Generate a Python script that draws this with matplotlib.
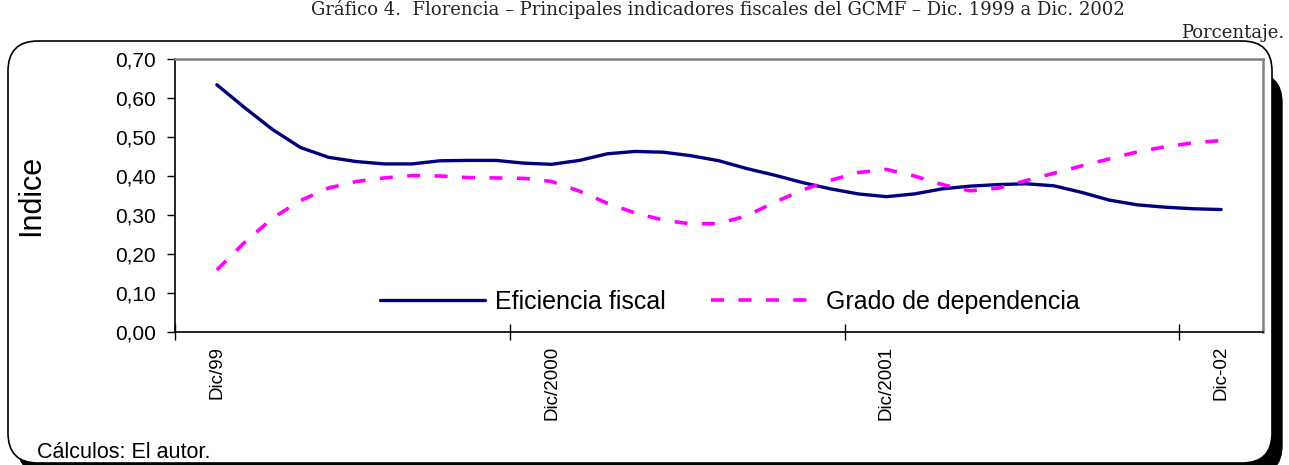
import numpy as np
import matplotlib as mpl
mpl.use('Agg')
import matplotlib.pyplot as plt
from matplotlib.patches import FancyBboxPatch
from matplotlib.ticker import FixedLocator, NullFormatter

plt.rcParams['font.family'] = ['Liberation Sans', 'DejaVu Sans']

# monthly readings, Dic/99 .. Dic/02 (index = month since Dic/99)
eficiencia = [0.634, 0.575, 0.519, 0.473, 0.448, 0.437, 0.431, 0.431, 0.439, 0.440,
              0.440, 0.433, 0.430, 0.440, 0.457, 0.463, 0.461, 0.452, 0.439, 0.419,
              0.402, 0.383, 0.367, 0.354, 0.347, 0.354, 0.367, 0.374, 0.378, 0.380,
              0.375, 0.358, 0.338, 0.326, 0.320, 0.316, 0.314]
dependencia = [0.159, 0.230, 0.292, 0.337, 0.369, 0.386, 0.395, 0.401, 0.400, 0.396,
               0.395, 0.394, 0.386, 0.361, 0.330, 0.305, 0.287, 0.277, 0.278, 0.298,
               0.333, 0.364, 0.389, 0.409, 0.417, 0.400, 0.378, 0.362, 0.369, 0.388,
               0.407, 0.426, 0.444, 0.462, 0.475, 0.485, 0.491]
meses = np.arange(len(eficiencia))
etiquetas_x = ['Dic/99', 'Dic/2000', 'Dic/2001', 'Dic-02']
pos_etiquetas = [0, 12, 24, 36]
y_ticks = [0.0, 0.1, 0.2, 0.3, 0.4, 0.5, 0.6, 0.7]

W, H = 1289, 465
fig = plt.figure(figsize=(W / 100, H / 100), dpi=100)

# rounded frame with black shadow (inches)
shadow = FancyBboxPatch((0.18, -0.10), 12.64, 4.02,
                        boxstyle='round,pad=0,rounding_size=0.3',
                        transform=fig.dpi_scale_trans, facecolor='black',
                        edgecolor='black', lw=1, zorder=0)
frame = FancyBboxPatch((0.08, 0.02), 12.64, 4.22,
                       boxstyle='round,pad=0,rounding_size=0.3',
                       transform=fig.dpi_scale_trans, facecolor='white',
                       edgecolor='black', lw=1.2, zorder=0.5)
fig.patches.append(shadow)
fig.patches.append(frame)

ax = fig.add_axes([175 / W, (H - 332) / H, 1088 / W, 273 / H])
ax.set_zorder(2)

ax.plot(meses, eficiencia, color='#000080', lw=2.4, solid_capstyle='round',
        label='Eficiencia fiscal')
ax.plot(meses, dependencia, color='#FF00FF', lw=2.6, dashes=(3.6, 4),
        label='Grado de dependencia')

ax.set_xlim(-1.5, 37.5)
ax.set_ylim(0, 0.7)
ax.set_yticks(y_ticks)
ax.set_yticklabels([f'{v:.2f}'.replace('.', ',') for v in y_ticks], fontsize=15)
ax.tick_params(axis='y', direction='out', length=6, width=1, pad=8)

ax.xaxis.set_major_locator(FixedLocator([-1.5, 10.5, 22.5, 34.5]))
ax.xaxis.set_major_formatter(NullFormatter())
ax.xaxis.set_minor_locator(FixedLocator(pos_etiquetas))
ax.set_xticklabels(etiquetas_x, minor=True, rotation=90, fontsize=13.5, va='top')
ax.tick_params(axis='x', which='major', direction='inout', length=11, width=1)
ax.tick_params(axis='x', which='minor', length=0, pad=10)

for s in ['left', 'bottom']:
    ax.spines[s].set_color('black')
    ax.spines[s].set_linewidth(1.2)
for s in ['top', 'right']:
    ax.spines[s].set_color('#808080')
    ax.spines[s].set_linewidth(1.8)

ax.set_ylabel('Indice', fontsize=22)
ax.yaxis.set_label_coords((46 - 175) / 1088, 0.5)

ax.legend(loc='center', bbox_to_anchor=(0.51, 0.11), ncol=2, frameon=False,
          fontsize=18, handlelength=4.2, columnspacing=1.8, handletextpad=0.4)

fig.text(0.557, 1 - 15 / H, 'Gráfico 4.  Florencia – Principales indicadores fiscales del GCMF – Dic. 1999 a Dic. 2002',
         ha='center', va='baseline', fontsize=13, family='DejaVu Serif', color='#222222')
fig.text(1284 / W, 1 - 38 / H, 'Porcentaje.', ha='right', va='baseline',
         fontsize=13, family='DejaVu Serif', color='#222222')
fig.text(37 / W, 1 - 452 / H, 'Cálculos: El autor.', ha='left', va='center',
         fontsize=15.5)

fig.savefig('out.png', dpi=100)
